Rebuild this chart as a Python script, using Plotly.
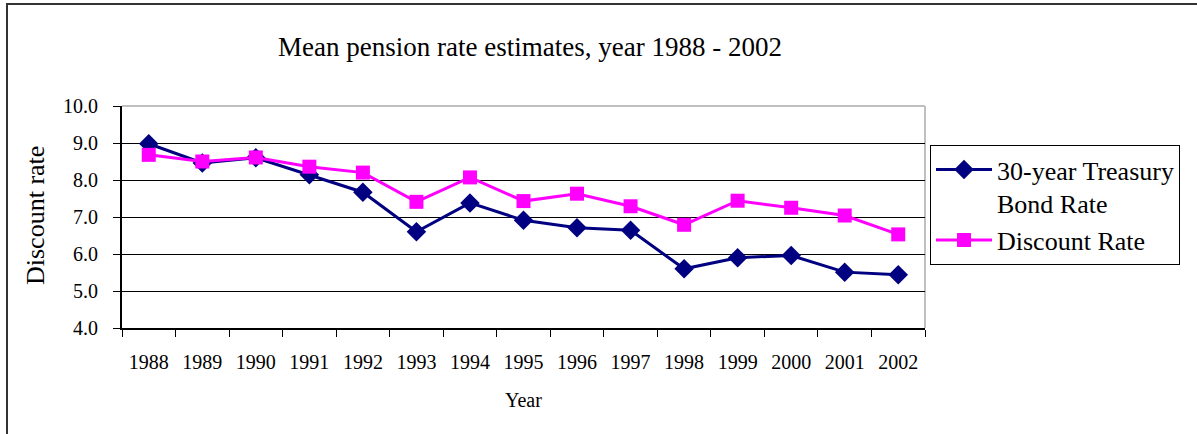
import plotly.graph_objects as go

years = ["1988", "1989", "1990", "1991", "1992", "1993", "1994", "1995",
         "1996", "1997", "1998", "1999", "2000", "2001", "2002"]
treasury = [8.98, 8.46, 8.60, 8.14, 7.67, 6.60, 7.38, 6.91,
            6.71, 6.64, 5.60, 5.90, 5.96, 5.51, 5.44]
discount = [8.68, 8.50, 8.61, 8.36, 8.20, 7.41, 8.07, 7.43,
            7.63, 7.29, 6.79, 7.44, 7.25, 7.04, 6.53]
y_ticks = [4, 5, 6, 7, 8, 9, 10]
y_ticktext = ["4.0", "5.0", "6.0", "7.0", "8.0", "9.0", "10.0"]

SERIF = "Liberation Serif, Times New Roman, serif"

fig = go.Figure()
fig.add_trace(go.Scatter(
    x=years, y=treasury, mode="lines+markers",
    name="30-year Treasury<br>Bond Rate",
    line=dict(color="#000080", width=3),
    marker=dict(symbol="diamond", size=15, color="#000080"),
))
fig.add_trace(go.Scatter(
    x=years, y=discount, mode="lines+markers",
    name="Discount Rate",
    line=dict(color="#FF00FF", width=3),
    marker=dict(symbol="square", size=14, color="#FF00FF"),
))

W, H = 1197, 434
L, R, T, B = 122, 272, 106, 106
pw, ph = W - L - R, H - T - B

def px(x):
    return (x - L) / pw

def py(y):
    return (H - B - y) / ph

fig.update_layout(
    width=W, height=H,
    margin=dict(l=L, r=R, t=T, b=B),
    paper_bgcolor="white", plot_bgcolor="white",
    font=dict(family=SERIF, color="black"),
    title=dict(text="Mean pension rate estimates, year 1988 - 2002",
               font=dict(family=SERIF, size=27, color="black"),
               x=px(530), xref="paper", xanchor="center",
               y=1 - 47 / H, yref="container", yanchor="middle"),
    showlegend=True,
    legend=dict(x=px(930), y=py(145), xanchor="left", yanchor="top",
                bordercolor="black", borderwidth=1, bgcolor="white",
                font=dict(family=SERIF, size=26, color="black"),
                valign="top", itemwidth=56),
    xaxis=dict(type="category", tickson="boundaries", ticks="outside",
               ticklen=7, tickcolor="black", tickwidth=1,
               showline=True, linecolor="black", linewidth=2,
               showgrid=False, zeroline=False, ticklabelstandoff=15,
               tickfont=dict(family=SERIF, size=20, color="black"),
               range=[-0.5, 14.5]),
    yaxis=dict(range=[4, 10], tickvals=y_ticks, ticktext=y_ticktext,
               ticks="outside", ticklen=7, tickcolor="black",
               showline=True, linecolor="black", linewidth=2,
               showgrid=True, gridcolor="black", gridwidth=1,
               zeroline=False, ticklabelstandoff=11,
               tickfont=dict(family=SERIF, size=20, color="black")),
    annotations=[
        dict(text="Discount rate", x=px(35), y=py(216), xref="paper",
             yref="paper", showarrow=False, textangle=-90,
             xanchor="center", yanchor="middle",
             font=dict(family=SERIF, size=26, color="black")),
        dict(text="Year", x=px(523), y=py(400), xref="paper",
             yref="paper", showarrow=False,
             xanchor="center", yanchor="middle",
             font=dict(family=SERIF, size=20, color="black")),
    ],
    shapes=[
        dict(type="line", xref="paper", yref="paper", x0=0, x1=1, y0=1, y1=1,
             line=dict(color="#c0c0c0", width=2), layer="below"),
        dict(type="line", xref="paper", yref="paper", x0=1, x1=1, y0=0, y1=1,
             line=dict(color="#c0c0c0", width=2), layer="below"),
        dict(type="rect", xref="paper", yref="paper",
             x0=px(7), x1=px(1210), y0=py(450), y1=py(4),
             line=dict(color="#333333", width=2)),
    ],
)

fig.write_html("out.html")
